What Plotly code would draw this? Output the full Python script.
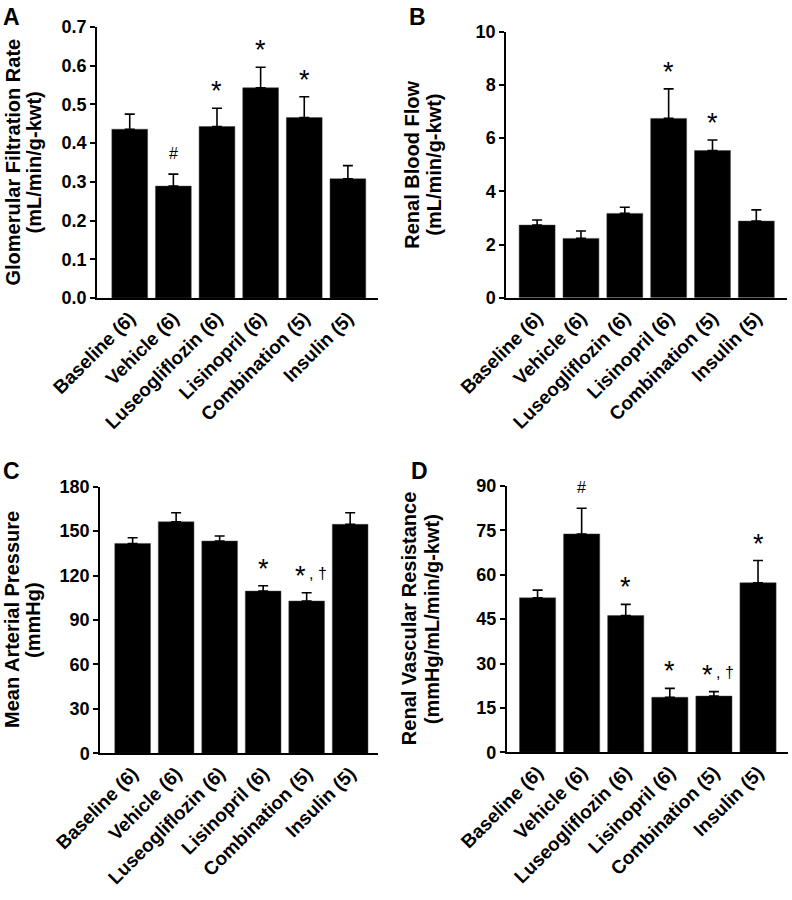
import plotly.graph_objects as go

categories = ["Baseline (6)", "Vehicle (6)", "Luseogliflozin (6)", "Lisinopril (6)", "Combination (5)", "Insulin (5)"]

gfr_mean = [0.436, 0.289, 0.443, 0.543, 0.466, 0.308]
gfr_sem = [0.039, 0.031, 0.047, 0.053, 0.054, 0.034]
gfr_marks = ["", "#", "*", "*", "*", ""]

rbf_mean = [2.73, 2.23, 3.17, 6.74, 5.53, 2.88]
rbf_sem = [0.19, 0.28, 0.23, 1.11, 0.40, 0.42]
rbf_marks = ["", "", "", "*", "*", ""]

map_mean = [141.7, 156.3, 143.3, 109.5, 102.8, 154.6]
map_sem = [3.8, 6.1, 3.4, 3.6, 5.6, 7.8]
map_marks = ["", "", "", "*", "*, †", ""]

rvr_mean = [52.2, 73.8, 46.2, 18.6, 19.0, 57.3]
rvr_sem = [2.6, 8.7, 3.8, 3.0, 1.5, 7.5]
rvr_marks = ["", "#", "*", "*", "*, †", "*"]

W, H = 792, 900
FONT = "Arial, Liberation Sans, sans-serif"

panels = [
    dict(mean=gfr_mean, sem=gfr_sem, marks=gfr_marks, letter="A",
         t1="Glomerular Filtration Rate", t2="(mL/min/g-kwt)",
         px=(97, 378), py=(27, 298), yrange=[0, 0.7], dtick=0.1, fmt=".1f",
         xr=[-0.75, 5.69], tx=(12, 33), lx=1, ly=2),
    dict(mean=rbf_mean, sem=rbf_sem, marks=rbf_marks, letter="B",
         t1="Renal Blood Flow", t2="(mL/min/g-kwt)",
         px=(506, 787), py=(31.7, 297.7), yrange=[0, 10], dtick=2, fmt="d",
         xr=[-0.71, 5.70], tx=(412, 434), lx=407, ly=2),
    dict(mean=map_mean, sem=map_sem, marks=map_marks, letter="C",
         t1="Mean Arterial Pressure", t2="(mmHg)",
         px=(100, 378), py=(486.7, 753.3), yrange=[0, 180], dtick=30, fmt="d",
         xr=[-0.75, 5.64], tx=(12, 33), lx=1, ly=456),
    dict(mean=rvr_mean, sem=rvr_sem, marks=rvr_marks, letter="D",
         t1="Renal Vascular Resistance", t2="(mmHg/mL/min/g-kwt)",
         px=(506.7, 788), py=(486, 752.3), yrange=[0, 90], dtick=15, fmt="d",
         xr=[-0.70, 5.68], tx=(409, 432), lx=409, ly=456),
]

fig = go.Figure()
annotations = []
layout = {}

for i, p in enumerate(panels):
    n = "" if i == 0 else str(i + 1)
    xa, ya = "x" + n, "y" + n
    fig.add_trace(go.Bar(
        x=list(range(len(categories))), y=p["mean"], xaxis=xa, yaxis=ya,
        width=0.82,
        marker=dict(color="black", line=dict(color="#444", width=0.5)),
        error_y=dict(type="data", symmetric=False, array=p["sem"],
                     arrayminus=[0] * len(p["sem"]), color="black",
                     thickness=1.6, width=5),
        showlegend=False, hoverinfo="skip",
    ))
    layout["xaxis" + n] = dict(
        domain=[p["px"][0] / W, p["px"][1] / W], anchor=ya,
        range=p["xr"], tickmode="array", automargin=False,
        tickvals=list(range(len(categories))), ticktext=categories,
        tickangle=-45, showline=True, linecolor="black", linewidth=1.5,
        ticks="", showgrid=False, zeroline=False,
        tickfont=dict(family=FONT, size=19, color="black", weight="bold"),
    )
    layout["yaxis" + n] = dict(
        domain=[1 - p["py"][1] / H, 1 - p["py"][0] / H], anchor=xa,
        range=p["yrange"], dtick=p["dtick"], tick0=0, tickformat=p["fmt"],
        showline=True, linecolor="black", linewidth=1.5, automargin=False,
        ticks="outside", ticklen=5, tickwidth=1.5, tickcolor="black",
        showgrid=False, zeroline=False,
        tickfont=dict(family=FONT, size=18, color="black", weight="bold"),
    )
    ymid = 1 - (p["py"][0] + p["py"][1]) / 2 / H
    for k, t in enumerate([p["t1"], p["t2"]]):
        annotations.append(dict(
            text=t, textangle=-90, xref="paper", yref="paper",
            x=p["tx"][k] / W, y=ymid,
            xanchor="center", yanchor="middle", showarrow=False,
            font=dict(family=FONT, size=20, color="black", weight="bold"),
        ))
    annotations.append(dict(
        text=p["letter"], xref="paper", yref="paper",
        x=p["lx"] / W, y=1 - p["ly"] / H, xanchor="left", yanchor="top",
        showarrow=False,
        font=dict(family=FONT, size=23, color="black", weight="bold"),
    ))
    for j, m in enumerate(p["marks"]):
        if not m:
            continue
        ytop = p["mean"][j] + p["sem"][j]
        if m == "#":
            annotations.append(dict(
                text="#", xref=xa, yref=ya, x=j, y=ytop,
                xanchor="center", yanchor="bottom", yshift=10, showarrow=False,
                font=dict(family=FONT, size=16, color="black"),
            ))
        elif m == "*":
            annotations.append(dict(
                text="*", xref=xa, yref=ya, x=j, y=ytop,
                xanchor="center", yanchor="bottom", yshift=0, showarrow=False,
                font=dict(family=FONT, size=27, color="black"),
            ))
        else:
            annotations.append(dict(
                text="*", xref=xa, yref=ya, x=j, y=ytop,
                xanchor="center", yanchor="bottom", xshift=-6, yshift=0,
                showarrow=False,
                font=dict(family=FONT, size=27, color="black"),
            ))
            annotations.append(dict(
                text=", †", xref=xa, yref=ya, x=j, y=ytop,
                xanchor="left", yanchor="bottom", xshift=0, yshift=9,
                showarrow=False,
                font=dict(family=FONT, size=16, color="black"),
            ))

fig.update_layout(
    width=W, height=H, margin=dict(l=0, r=0, t=0, b=0),
    paper_bgcolor="white", plot_bgcolor="white",
    annotations=annotations, bargap=0.18, **layout,
)

fig.write_html("out.html", config={"displayModeBar": False},
               post_script="document.body.style.margin='0';document.body.style.padding='0';")
